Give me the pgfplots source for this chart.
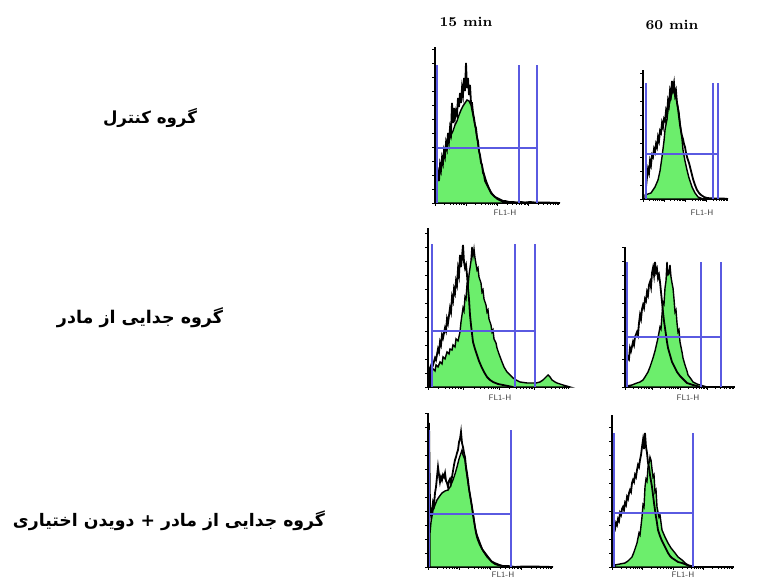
\documentclass[border=0pt]{standalone}
\usepackage{pgfplots}
\pgfplotsset{compat=1.18}
\usepackage{fontspec}
\newfontfamily\arabicfont[Script=Arabic]{DejaVu Sans}
\TeXXeTstate=1
\definecolor{flowgreen}{RGB}{108,238,108}
\definecolor{gateblue}{RGB}{90,90,225}
\pgfplotsset{
 flow/.style={scale only axis, anchor=south west, axis x line=bottom, axis y line=left,
   axis line style={-, line width=0.6pt, black}, xmin=0, ymin=0,
   xticklabels={}, yticklabels={}, tick align=outside, major tick length=1.4pt,
   minor tick length=0.9pt, ytick distance=14, every tick/.style={black, line width=0.4pt},
   clip=false},
 logx/.style={xtick={0,#1,2*#1,3*#1},
   minor xtick={#1*0.301,#1*0.477,#1*0.602,#1*0.699,#1*0.778,#1*0.845,#1*0.903,#1*0.954,
   #1*1.301,#1*1.477,#1*1.602,#1*1.699,#1*1.778,#1*1.845,#1*1.903,#1*1.954,
   #1*2.301,#1*2.477,#1*2.602,#1*2.699,#1*2.778,#1*2.845,#1*2.903,#1*2.954,
   #1*3.301,#1*3.477,#1*3.602,#1*3.699,#1*3.778,#1*3.845,#1*3.903,#1*3.954}},
 gfill/.style={fill=flowgreen, draw=black, line width=0.7pt},
 ctrl/.style={black, line width=0.9pt},
 gate/.style={gateblue, line width=0.6pt},
}
\newcommand{\flabel}[2]{\node[font=\fontsize{4}{4}\selectfont\sffamily, text=black!75, anchor=center, inner sep=0pt] at (axis cs:#1,-#2) {FL1-H};}
\begin{document}
\begin{tikzpicture}[x=0.5pt,y=0.5pt]
\useasboundingbox (0,0) rectangle (761,582);
% titles
\node[font=\fontsize{6.8}{8}\selectfont\bfseries] at (466,560.5) {15 min};
\node[font=\fontsize{6.8}{8}\selectfont\bfseries] at (672,557.5) {60 min};
% row labels
\node at (150,464) {\resizebox{47pt}{!}{\arabicfont\bfseries\beginR گروه کنترل\endR}};
\node at (140,264) {\resizebox{83pt}{!}{\arabicfont\bfseries\beginR گروه جدایی از مادر\endR}};
\node at (169,61) {\resizebox{156pt}{!}{\arabicfont\bfseries\beginR گروه جدایی از مادر + دویدن اختیاری\endR}};

% ---------- Panel 1 ----------
\begin{axis}[flow, logx=31.25, at={(217.5pt,189.5pt)}, width=62.5pt, height=78pt, xmax=125, ymax=156]
\addplot[gfill] coordinates {(2,0)(2,20)(4,28)(6,35)(8,42)(10,50)(12,58)(14,62)(16,68)(18,72)(20,78)(22,82)(24,88)(26,93)(28,97)(30,100)(32,103)(34,102)(36,98)(38,88)(40,78)(42,65)(44,52)(46,42)(48,33)(50,26)(52,20)(54,15)(56,11)(58,8)(60,6)(62,4)(64,3)(66,2)(70,1)(75,0.5)(80,0)} \closedcycle;
\addplot[ctrl] coordinates {(2,0)(2,25)(3,30)(4,22)(5,38)(6,33)(7,45)(8,40)(9,52)(10,47)(11,60)(12,55)(13,70)(14,62)(15,75)(16,70)(17,100)(18,80)(19,95)(20,85)(21,92)(22,88)(23,105)(24,96)(25,110)(26,100)(27,115)(28,108)(29,125)(30,112)(31,140)(32,115)(33,125)(34,108)(35,118)(36,100)(37,100)(38,90)(39,85)(40,78)(41,75)(42,66)(43,62)(44,52)(45,48)(46,40)(47,38)(48,30)(49,28)(50,22)(52,18)(54,14)(56,10)(58,8)(60,6)(62,5)(64,4)(66,3)(68,2)(70,2)(74,1)(78,1)(82,0.5)(86,1)(90,0.5)(95,1)(100,0.5)(110,0.5)(125,0)};
\addplot[gate] coordinates {(2,0)(2,138)};
\addplot[gate] coordinates {(84,0)(84,138)};
\addplot[gate] coordinates {(102,0)(102,138)};
\addplot[gate] coordinates {(2,55)(102,55)};
\flabel{70}{10}
\end{axis}

% ---------- Panel 2 ----------
\begin{axis}[flow, logx=21.25, at={(321.5pt,191.5pt)}, width=42.5pt, height=64.5pt, xmax=85, ymax=129]
\addplot[gfill] coordinates {(2,0)(2,4)(5,5)(8,6)(10,9)(12,12)(15,19)(17,28)(19,42)(21,58)(22,69)(24,80)(25,89)(27,98)(29,106)(30,109)(32,104)(34,97)(36,86)(37,76)(39,60)(40,49)(42,38)(44,29)(46,21)(49,12)(52,6)(55,2)(60,0)} \closedcycle;
\addplot[ctrl] coordinates {(3,0)(3,12)(4,22)(5,30)(6,26)(7,38)(8,34)(9,44)(10,42)(11,50)(12,47)(13,55)(14,52)(15,62)(16,58)(17,68)(18,66)(19,76)(20,72)(21,80)(22,78)(23,88)(24,84)(25,98)(26,94)(27,108)(28,104)(29,118)(30,110)(31,116)(32,104)(33,108)(34,96)(35,90)(36,82)(37,74)(38,68)(39,63)(40,60)(41,55)(42,52)(43,46)(44,42)(46,36)(48,28)(50,20)(52,14)(54,9)(56,6)(58,4)(61,2)(64,1)(70,0.5)(80,0.5)(85,0)};
\addplot[gate] coordinates {(3,0)(3,116)};
\addplot[gate] coordinates {(70,0)(70,116)};
\addplot[gate] coordinates {(75,0)(75,116)};
\addplot[gate] coordinates {(3,45)(75,45)};
\flabel{59}{14}
\end{axis}

% ---------- Panel 3 ----------
\begin{axis}[flow, logx=35.5, at={(214pt,97.5pt)}, width=71pt, height=79.5pt, xmax=142, ymax=159]
\addplot[gfill] coordinates {(2,0)(2,15)(5,18)(7,16)(8,22)(10,20)(12,25)(14,23)(15,30)(17,28)(19,35)(21,33)(22,38)(24,37)(25,42)(27,40)(28,48)(30,46)(32,55)(33,65)(35,79)(36,76)(37,90)(38,88)(39,102)(40,100)(41,112)(42,119)(43,126)(44,140)(45,131)(46,138)(47,129)(48,123)(49,117)(50,119)(51,110)(53,104)(54,95)(55,97)(56,88)(58,82)(59,75)(60,77)(61,68)(63,62)(64,55)(65,57)(66,48)(68,44)(69,39)(71,33)(74,25)(76,20)(79,15)(82,12)(85,9)(88,7)(92,5)(99,4)(105,4)(108,4)(112,5)(115,7)(117,9)(119,11)(120,12)(122,10)(124,7)(127,5)(129,4)(135,2)(142,0)} \closedcycle;
\addplot[ctrl] coordinates {(2,0)(2,19)(4,24)(5,22)(7,29)(8,27)(10,38)(11,35)(12,45)(13,42)(14,52)(15,49)(17,59)(18,56)(19,68)(20,64)(22,79)(23,75)(24,90)(25,86)(26,98)(27,94)(28,106)(29,102)(30,118)(31,112)(32,132)(33,120)(34,130)(35,142)(36,125)(37,119)(38,122)(39,112)(40,99)(41,88)(42,72)(43,62)(45,45)(47,38)(49,32)(51,26)(54,19)(56,15)(59,10)(62,7)(65,5)(70,3)(75,2)(80,1)(85,0)};
\addplot[gate] coordinates {(4,0)(4,143)};
\addplot[gate] coordinates {(87,0)(87,143)};
\addplot[gate] coordinates {(107,0)(107,143)};
\addplot[gate] coordinates {(4,56)(107,56)};
\flabel{72}{11}
\end{axis}

% ---------- Panel 4 ----------
\begin{axis}[flow, logx=27.5, at={(312.5pt,97.5pt)}, width=55pt, height=70pt, xmax=110, ymax=140]
\addplot[gfill] coordinates {(2,0)(2,1)(7,2)(12,4)(15,5)(18,7)(20,10)(23,15)(25,20)(28,29)(30,36)(33,49)(35,60)(36,58)(37,72)(38,85)(39,83)(40,99)(41,106)(42,125)(43,112)(44,113)(45,122)(46,110)(47,104)(48,99)(49,88)(50,75)(51,77)(52,64)(53,55)(54,57)(55,45)(57,35)(58,29)(60,22)(62,16)(63,12)(66,8)(68,5)(72,3)(75,2)(82,0)} \closedcycle;
\addplot[ctrl] coordinates {(2,0)(2,25)(3,30)(4,28)(5,39)(6,36)(8,45)(9,42)(10,50)(12,55)(13,52)(14,64)(15,72)(16,68)(17,78)(18,82)(19,79)(20,88)(21,86)(22,95)(23,92)(24,102)(25,105)(26,100)(27,114)(28,119)(29,112)(30,125)(31,115)(32,118)(33,109)(34,112)(35,105)(36,95)(37,85)(38,75)(39,66)(40,59)(41,52)(42,45)(43,39)(45,32)(47,25)(50,19)(52,15)(55,11)(57,9)(60,6)(62,4)(65,3)(68,2)(72,1)(75,0)};
\addplot[gate] coordinates {(2,0)(2,125)};
\addplot[gate] coordinates {(76,0)(76,125)};
\addplot[gate] coordinates {(96,0)(96,125)};
\addplot[gate] coordinates {(2,50)(96,50)};
\flabel{63}{11}
\end{axis}

% ---------- Panel 5 ----------
\begin{axis}[flow, logx=31.25, at={(214pt,7.5pt)}, width=62.5pt, height=77pt, xmax=125, ymax=154]
\addplot[gfill] coordinates {(2,0)(2,34)(3,45)(5,57)(7,62)(9,67)(11,70)(14,74)(17,76)(20,77)(22,80)(25,87)(27,93)(29,100)(31,108)(33,114)(34,117)(35,112)(37,107)(38,98)(40,84)(42,72)(44,60)(46,48)(47,40)(49,32)(52,24)(55,16)(59,10)(63,6)(67,4)(72,2)(77,0)} \closedcycle;
\addplot[ctrl] coordinates {(1,0)(1,144)(2,60)(3,52)(4,57)(5,65)(6,62)(7,74)(8,80)(9,90)(10,100)(11,92)(12,85)(13,90)(14,87)(15,92)(16,90)(17,94)(18,86)(19,84)(20,80)(21,86)(22,88)(23,84)(24,90)(25,96)(26,102)(27,107)(28,110)(29,114)(30,117)(31,125)(32,128)(33,135)(34,124)(35,120)(36,114)(37,110)(38,100)(39,94)(40,87)(41,78)(42,72)(43,66)(44,60)(45,52)(46,46)(47,40)(48,34)(49,30)(50,27)(52,22)(54,18)(57,14)(60,10)(64,5)(67,3)(70,2)(75,1)(80,1)(87,0)(95,0.5)(105,0.5)(125,0)};
\addplot[gate] coordinates {(1.5,0)(1.5,137)};
\addplot[gateblue, line width=1.3pt] coordinates {(83,0)(83,137)};
\addplot[gate] coordinates {(1.5,53)(83,53)};
\flabel{75}{8}
\end{axis}

% ---------- Panel 6 ----------
\begin{axis}[flow, logx=30.5, at={(306pt,7.5pt)}, width=61pt, height=76pt, xmax=122, ymax=152]
\addplot[gfill] coordinates {(3,0)(3,2)(8,3)(13,4)(16,6)(20,10)(22,15)(25,24)(27,34)(28,32)(30,50)(31,62)(32,60)(33,80)(34,88)(35,86)(36,100)(37,104)(38,110)(39,107)(40,98)(41,90)(42,92)(43,75)(44,77)(45,60)(47,50)(48,52)(50,37)(53,30)(56,24)(59,19)(63,14)(66,10)(70,7)(73,4)(76,2)(80,1)(83,0)} \closedcycle;
\addplot[ctrl] coordinates {(1,0)(1,37)(2,40)(3,38)(4,44)(5,42)(6,48)(7,46)(8,54)(9,52)(10,58)(11,60)(12,57)(13,64)(14,62)(15,70)(16,68)(17,74)(18,77)(19,75)(20,84)(21,87)(22,85)(23,92)(24,90)(25,97)(26,102)(27,100)(28,107)(29,112)(30,120)(31,127)(32,118)(33,134)(34,120)(35,114)(36,104)(37,100)(38,92)(39,86)(40,80)(41,72)(42,64)(43,57)(44,50)(45,44)(46,37)(48,31)(50,26)(52,22)(54,18)(56,14)(58,11)(60,9)(63,7)(66,5)(70,4)(75,2)(80,0)};
\addplot[gate] coordinates {(2,0)(2,134)};
\addplot[gateblue, line width=1.1pt] coordinates {(81,0)(81,134)};
\addplot[gate] coordinates {(2,54)(81,54)};
\flabel{71}{8}
\end{axis}
\end{tikzpicture}
\end{document}
